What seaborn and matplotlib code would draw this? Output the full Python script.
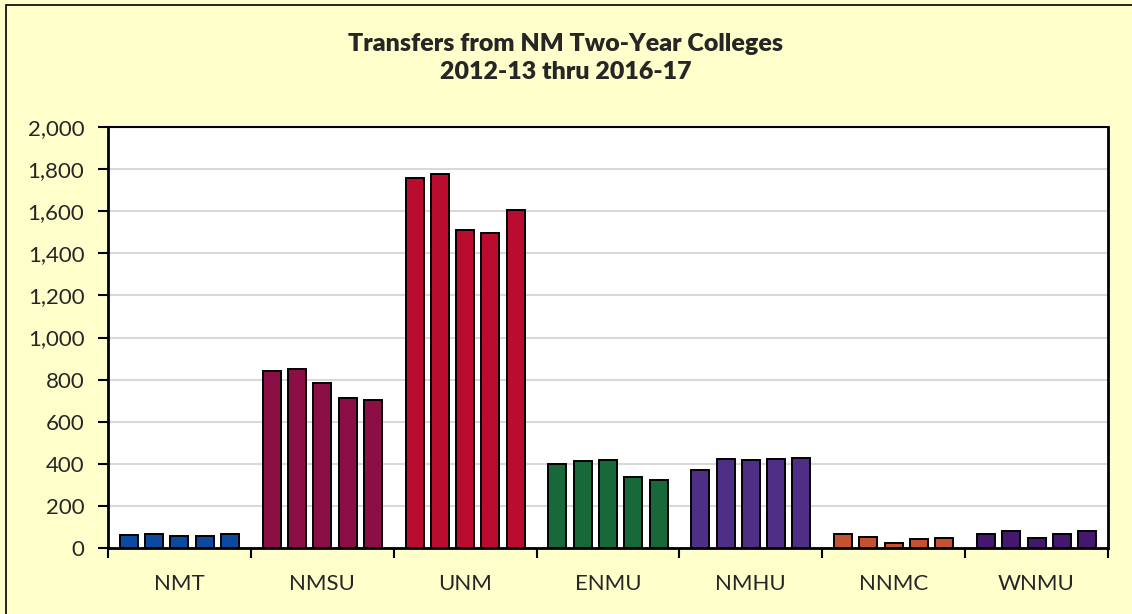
import matplotlib
matplotlib.use("Agg")
import matplotlib.pyplot as plt
import seaborn as sns
import pandas as pd
import numpy as np
from matplotlib.patches import Rectangle

institutions = ["NMT", "NMSU", "UNM", "ENMU", "NMHU", "NNMC", "WNMU"]
years = ["2012-13", "2013-14", "2014-15", "2015-16", "2016-17"]
values = {
    "NMT":  [61, 67, 56, 57, 65],
    "NMSU": [840, 848, 783, 714, 701],
    "UNM":  [1756, 1779, 1511, 1498, 1605],
    "ENMU": [397, 411, 416, 338, 324],
    "NMHU": [369, 424, 418, 421, 427],
    "NNMC": [66, 54, 22, 41, 46],
    "WNMU": [68, 81, 49, 66, 81],
}
colors = ["#0B4A9E", "#8B0E44", "#BA0C2F", "#17693A", "#4F2E85", "#C4522F", "#43186E"]
title = "Transfers from NM Two-Year Colleges\n2012-13 thru 2016-17"
yticks = [0, 200, 400, 600, 800, 1000, 1200, 1400, 1600, 1800, 2000]

rows = []
for inst in institutions:
    for yr, v in zip(years, values[inst]):
        rows.append({"inst": inst, "year": yr, "value": v})
df = pd.DataFrame(rows)

sns.set_theme(style="white")
plt.rcParams["font.family"] = ["Lato", "DejaVu Sans"]

bg = "#FFFFCC"
fig = plt.figure(figsize=(11.32, 6.14), dpi=100, facecolor=bg)
ax = fig.add_axes([108/1132, 1 - 548/614, 1000/1132, 421/614])
ax.set_facecolor("white")

sns.barplot(data=df, x="inst", y="value", hue="year", order=institutions,
            hue_order=years, dodge=True, width=0.885, gap=0.29,
            edgecolor="black", linewidth=1.4, legend=False, ax=ax, errorbar=None)

for cont in ax.containers:
    for j, bar in enumerate(cont):
        bar.set_facecolor(colors[j])
        bar.set_zorder(3)

ax.set_ylim(0, 2000)
ax.set_xlim(-0.5, len(institutions) - 0.5)
ax.set_yticks(yticks)
ax.set_yticklabels([f"{t:,}" for t in yticks], fontsize=16)
ax.yaxis.grid(True, color="#D9D9D9", linewidth=1.5, zorder=0)
ax.set_axisbelow(True)
ax.set_xlabel("")
ax.set_ylabel("")

# x ticks between categories
ax.set_xticks(np.arange(-0.5, len(institutions) + 0.5, 1.0))
ax.set_xticklabels([])
ax.set_xticks(np.arange(len(institutions)), minor=True)
ax.set_xticklabels(institutions, minor=True, fontsize=16)
ax.tick_params(axis="x", which="major", direction="out", length=7, width=1.5, color="black", bottom=True)
ax.tick_params(axis="x", which="minor", length=0, pad=19)
ax.tick_params(axis="y", direction="out", length=7, width=1.5, color="black", left=True, pad=10)

for s in ["left", "bottom", "right"]:
    ax.spines[s].set_color("black")
    ax.spines[s].set_linewidth(2)
ax.spines["top"].set_color("black")
ax.spines["top"].set_linewidth(1.5)

fig.text(0.5, 1 - 58/614, title, ha="center", va="center", fontsize=18,
         fontweight="heavy", linespacing=1.3)

fig.patches.append(Rectangle((6/1132, -0.1), 1.2, 1 - 5/614 + 0.1, transform=fig.transFigure,
                             fill=False, edgecolor="black", linewidth=1.2, zorder=0))

fig.savefig("out.png", dpi=100, facecolor=bg)
